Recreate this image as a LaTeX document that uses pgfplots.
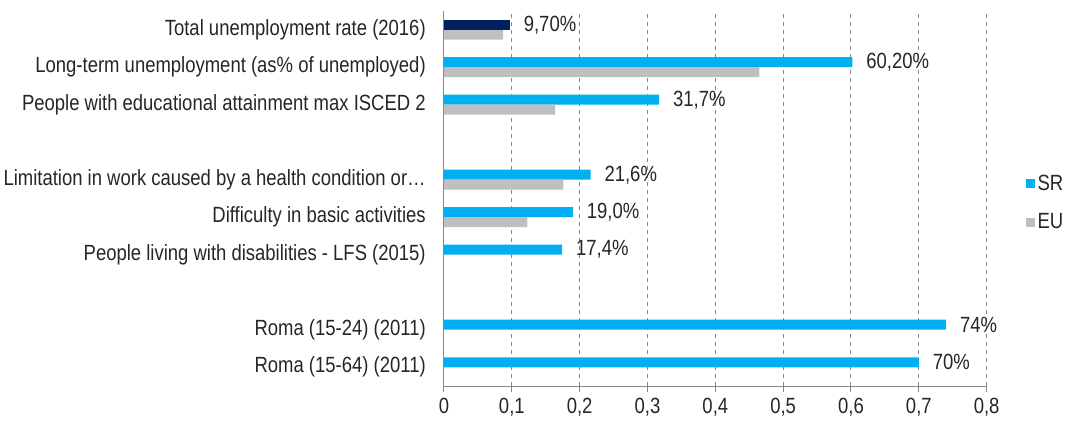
\documentclass[border=0pt]{standalone}
\usepackage{pgfplots}
\pgfplotsset{compat=1.18}
\usepackage{fontspec}
\setmainfont[FakeStretch=0.84]{Liberation Sans}
\definecolor{sr}{HTML}{00B0F0}
\definecolor{eu}{HTML}{BFBFBF}
\definecolor{navy}{HTML}{002060}
\definecolor{axisgray}{HTML}{868686}
\definecolor{txt}{HTML}{262626}
\begin{document}
\begin{tikzpicture}[font=\fontsize{16.5}{19}\selectfont, text=txt]
\useasboundingbox (-333pt,-26.25pt) rectangle (475.5pt,289.5pt);
\begin{axis}[
 at={(0,0)}, anchor=south west,
 scale only axis, width=407pt, height=281.25pt,
 xbar, bar width=7.5pt,
 xmin=0, xmax=0.8, ymin=-0.5, ymax=9.5,
 clip=false,
 axis x line*=bottom, axis y line*=left,
 axis line style={axisgray, line width=0.75pt},
 xtick={0,0.1,0.2,0.3,0.4,0.5,0.6,0.7,0.8},
 xticklabels={0,{0,1},{0,2},{0,3},{0,4},{0,5},{0,6},{0,7},{0,8}},
 x tick style={axisgray, line width=0.75pt},
 x tick label style={yshift=-1pt},
 tick align=outside, major tick length=4.5pt,
 xmajorgrids,
 grid style={axisgray, line width=0.75pt, dash pattern=on 3pt off 3pt},
 ytick={0,1,2,3,4,5,6,7,8,9},
 yticklabels={Roma (15-64) (2011), Roma (15-24) (2011), {}, People living with disabilities - LFS (2015), Difficulty in basic activities, Limitation in work caused by a health condition or…, {}, People with educational attainment max ISCED 2, Long-term unemployment (as\% of unemployed), Total unemployment rate (2016)},
 y tick style={draw=none},
 y tick label style={inner sep=0pt, xshift=-9pt},
 extra y ticks={-0.5,0.5,1.5,2.5,3.5,4.5,5.5,6.5,7.5,8.5,9.5},
 extra y tick labels={},
 extra y tick style={tick style={draw=axisgray, line width=0.75pt}, major tick length=4.5pt, tick align=outside},
 nodes near coords style={anchor=west, xshift=7pt, text=txt},
 legend style={at={(axis description cs:1.065,0.488)}, anchor=west, draw=none, fill=none, row sep=12pt, legend cell align=left},
 legend image code/.code={\fill[#1] (0pt,-3.3pt) rectangle (6.6pt,3.3pt);},
]
\addplot[fill=sr, draw=none, bar shift=3.75pt, nodes near coords, point meta=explicit symbolic]
 coordinates {(0.602,8)[60,20\%] (0.317,7)[31,7\%] (0.216,5)[21,6\%] (0.190,4)[19,0\%] (0.174,3)[17,4\%] (0.740,1)[74\%] (0.700,0)[70\%]};
\addplot[fill=eu, draw=none, bar shift=-3.75pt]
 coordinates {(0.087,9) (0.465,8) (0.164,7) (0.176,5) (0.123,4)};
\addplot[fill=navy, draw=none, bar shift=3.75pt, forget plot, nodes near coords, point meta=explicit symbolic]
 coordinates {(0.097,9)[9,70\%]};
\legend{SR, EU}
\end{axis}
\end{tikzpicture}
\end{document}
